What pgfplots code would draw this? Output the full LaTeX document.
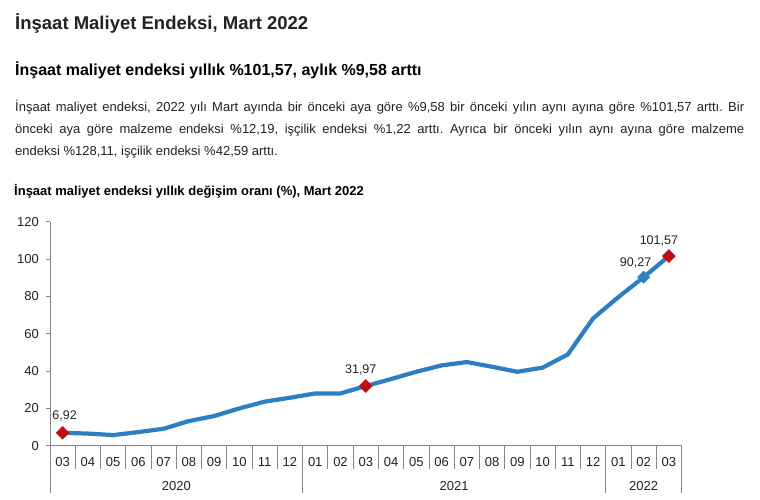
\documentclass[border=0pt]{standalone}
\usepackage{fontspec}
\setmainfont{Liberation Sans}
\usepackage{pgfplots}
\pgfplotsset{compat=1.18}
\definecolor{lineblue}{RGB}{46,126,192}
\definecolor{mred}{RGB}{190,16,20}
\definecolor{axgray}{RGB}{134,134,134}
\definecolor{txt}{RGB}{34,34,34}
\frenchspacing
\begin{document}
\begin{tikzpicture}[x=1pt,y=1pt]
\path[fill=white,use as bounding box] (0,0) rectangle (760,499);
\node[anchor=base west, inner sep=0, text=txt, font=\fontsize{18.5}{22}\selectfont\bfseries] at (15,469.7) {İnşaat Maliyet Endeksi, Mart 2022};
\node[anchor=base west, inner sep=0, text=black, font=\fontsize{16}{19}\selectfont\bfseries] at (15,423) {İnşaat maliyet endeksi yıllık \%101,57, aylık \%9,58 arttı};
\node[anchor=base west, inner sep=0, text width=729pt, align=justify, text=txt, font=\fontsize{13}{21.8}\selectfont] at (15,387) {\hyphenpenalty=10000\relax İnşaat maliyet endeksi, 2022 yılı Mart ayında bir önceki aya göre \%9,58 bir önceki yılın aynı ayına göre \%101,57 arttı. Bir\linebreak önceki aya göre malzeme endeksi \%12,19, işçilik endeksi \%1,22 arttı. Ayrıca bir önceki yılın aynı ayına göre malzeme\linebreak endeksi \%128,11, işçilik endeksi \%42,59 arttı.};
\node[anchor=base west, inner sep=0, text=black, font=\fontsize{13}{16}\selectfont\bfseries] at (14,304) {İnşaat maliyet endeksi yıllık değişim oranı (\%), Mart 2022};
\begin{axis}[
  at={(50pt,53.3pt)}, anchor=south west, scale only axis,
  width=631.5pt, height=224pt,
  xmin=-0.5, xmax=24.5, ymin=0, ymax=120,
  axis lines*=left,
  axis line style={axgray, line width=0.8pt},
  ytick={0,20,...,120},
  tick align=outside, major tick length=4pt,
  y tick style={axgray, line width=0.8pt},
  x tick style={draw=none},
  xtick={0,...,24},
  xticklabels={03,04,05,06,07,08,09,10,11,12,01,02,03,04,05,06,07,08,09,10,11,12,01,02,03},
  /pgf/number format/assume math mode=true,
  tick label style={font=\fontsize{13}{15}\selectfont, text=txt},
  xticklabel style={anchor=base, inner sep=0pt, yshift=-16.8pt},
  yticklabel style={anchor=east, inner sep=0pt, xshift=-7pt},
  clip=false,
]
\addplot[lineblue, line width=4.2pt, line join=round] coordinates {
(0,6.92) (1,6.5) (2,5.7) (3,7.3) (4,9.1) (5,13.2) (6,15.9) (7,20.0) (8,23.6) (9,25.7)
(10,28.0) (11,28.0) (12,31.97) (13,35.7) (14,39.6) (15,43.0) (16,44.8) (17,42.3) (18,39.6) (19,41.8)
(20,48.9) (21,68.2) (22,79.6) (23,90.27) (24,101.57)};
\addplot[only marks, mark=square*, mark size=4.3pt, mark options={rotate=45, fill=lineblue, draw=lineblue},
  nodes near coords={90,27}, every node near coord/.append style={anchor=base, inner sep=0pt, xshift=-8pt, yshift=11pt, font=\fontsize{12.5}{14}\selectfont, text=txt}] coordinates {(23,90.27)};
\addplot[only marks, mark=square*, mark size=4.6pt, mark options={rotate=45, fill=mred, draw=mred},
  nodes near coords={6,92}, every node near coord/.append style={anchor=base, inner sep=0pt, xshift=2pt, yshift=13pt, font=\fontsize{12.5}{14}\selectfont, text=txt}] coordinates {(0,6.92)};
\addplot[only marks, mark=square*, mark size=4.6pt, mark options={rotate=45, fill=mred, draw=mred},
  nodes near coords={31,97}, every node near coord/.append style={anchor=base, inner sep=0pt, xshift=-5pt, yshift=13pt, font=\fontsize{12.5}{14}\selectfont, text=txt}] coordinates {(12,31.97)};
\addplot[only marks, mark=square*, mark size=4.6pt, mark options={rotate=45, fill=mred, draw=mred},
  nodes near coords={101,57}, every node near coord/.append style={anchor=base, inner sep=0pt, xshift=-10pt, yshift=12pt, font=\fontsize{12.5}{14}\selectfont, text=txt}] coordinates {(24,101.57)};
\pgfplotsinvokeforeach{0.5,1.5,2.5,3.5,4.5,5.5,6.5,7.5,8.5,10.5,11.5,12.5,13.5,14.5,15.5,16.5,17.5,18.5,19.5,20.5,22.5,23.5}{
  \draw[axgray, line width=0.8pt] (axis cs:#1,0) -- ++(0pt,-23.6pt);
}
\pgfplotsinvokeforeach{-0.5,9.5,21.5,24.5}{
  \draw[axgray, line width=0.8pt] (axis cs:#1,0) -- ++(0pt,-47.3pt);
}
\node[anchor=base, font=\fontsize{13}{15}\selectfont, text=txt] at (axis cs:4.5,0) [yshift=-44.5pt] {2020};
\node[anchor=base, font=\fontsize{13}{15}\selectfont, text=txt] at (axis cs:15.5,0) [yshift=-44.5pt] {2021};
\node[anchor=base, font=\fontsize{13}{15}\selectfont, text=txt] at (axis cs:23,0) [yshift=-44.5pt] {2022};
\end{axis}
\end{tikzpicture}
\end{document}
